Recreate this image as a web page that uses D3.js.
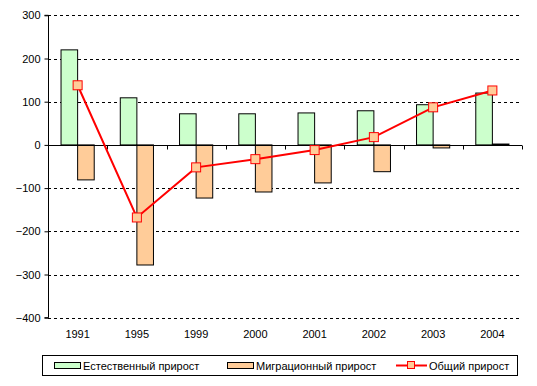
<!DOCTYPE html>
<html><head><meta charset="utf-8">
<script src="https://cdn.jsdelivr.net/npm/d3@7"></script>
<style>body{margin:0;background:#fff}svg{display:block;font-family:"Liberation Sans",Arial,sans-serif}</style>
</head><body><svg id="c" width="537" height="386"></svg>
<script>
const years = ["1991","1995","1999","2000","2001","2002","2003","2004"];
const natural = [220,109,72,72,74,79,93,120];
const migration = [-81,-278,-123,-109,-88,-62,-7,2];
const total = [138,-168,-52,-33,-12,18,87,126];
const yTicks = [300,200,100,0,-100,-200,-300,-400];
const seriesNames = ["Естественный прирост","Миграционный прирост","Общий прирост"];
const colors = {nat:"#CCFFCC", mig:"#FFCC99", line:"#FF0000"};

const svg = d3.select("#c");
const L=48, R=522, T=15.3, B=317.7;
const x = d3.scaleBand().domain(years).range([L,R]).paddingInner(0).paddingOuter(0);
const y = d3.scaleLinear().domain([-400,300]).range([B,T]);
const bw = x.bandwidth()*0.28;

// gridlines
svg.append("g").selectAll("line").data(yTicks).join("line")
  .attr("x1",L).attr("x2",R).attr("y1",d=>Math.round(y(d))+0.5).attr("y2",d=>Math.round(y(d))+0.5)
  .attr("stroke","#000").attr("stroke-dasharray","3,3").attr("stroke-width",1)
  .attr("visibility",d=>d===0?"hidden":"visible");

// bars
const bars = svg.append("g");
bars.selectAll("rect.n").data(years).join("rect")
  .attr("x",d=>x(d)+x.bandwidth()/2-bw).attr("width",bw)
  .attr("y",(d,i)=>y(Math.max(0,natural[i]))).attr("height",(d,i)=>Math.abs(y(natural[i])-y(0)))
  .attr("fill",colors.nat).attr("stroke","#000").attr("stroke-width",1);
bars.selectAll("rect.m").data(years).join("rect")
  .attr("x",d=>x(d)+x.bandwidth()/2).attr("width",bw)
  .attr("y",(d,i)=>y(Math.max(0,migration[i]))).attr("height",(d,i)=>Math.abs(y(migration[i])-y(0)))
  .attr("fill",colors.mig).attr("stroke","#000").attr("stroke-width",1);

// y axis
const ya = svg.append("g").attr("transform",`translate(${L+0.5},0)`)
  .call(d3.axisLeft(y).tickValues(yTicks).tickSize(4).tickPadding(4));
ya.select(".domain").attr("stroke","#000").attr("d",`M-4,${y(300)}H0V${y(-400)}H-4`);
ya.selectAll("text").attr("font-size","11px").attr("fill","#000").attr("font-family","Liberation Sans, Arial, sans-serif");
ya.selectAll(".tick line").attr("stroke","#000");

// x zero axis with category ticks
const z = Math.round(y(0))+0.5;
svg.append("line").attr("x1",L).attr("x2",R).attr("y1",z).attr("y2",z).attr("stroke","#000");
svg.append("g").selectAll("line").data(d3.range(years.length+1)).join("line")
  .attr("x1",i=>Math.round(L+i*x.step())+0.5).attr("x2",i=>Math.round(L+i*x.step())+0.5)
  .attr("y1",z).attr("y2",z+4).attr("stroke","#000");

// x labels
svg.append("g").selectAll("text").data(years).join("text")
  .attr("x",d=>x(d)+x.bandwidth()/2).attr("y",338).attr("text-anchor","middle")
  .attr("font-size","11px").text(d=>d);

// line
const line = d3.line().x((d,i)=>x(years[i])+x.bandwidth()/2).y(d=>y(d));
svg.append("path").datum(total).attr("d",line).attr("fill","none").attr("stroke",colors.line).attr("stroke-width",2);
svg.append("g").selectAll("rect").data(total).join("rect")
  .attr("x",(d,i)=>x(years[i])+x.bandwidth()/2-4.5).attr("y",d=>y(d)-4.5)
  .attr("width",9).attr("height",9).attr("fill",colors.mig).attr("stroke",colors.line).attr("stroke-width",1);

// legend
const lg = svg.append("g");
lg.append("rect").attr("x",42.5).attr("y",355.5).attr("width",475).attr("height",20).attr("fill","#fff").attr("stroke","#000");
lg.append("rect").attr("x",54.5).attr("y",362.5).attr("width",26).attr("height",6).attr("fill",colors.nat).attr("stroke","#000");
lg.append("text").attr("x",83).attr("y",369.5).attr("font-size","11px").text(seriesNames[0]);
lg.append("rect").attr("x",227.5).attr("y",362.5).attr("width",26).attr("height",6).attr("fill",colors.mig).attr("stroke","#000");
lg.append("text").attr("x",256).attr("y",369.5).attr("font-size","11px").text(seriesNames[1]);
lg.append("line").attr("x1",396).attr("x2",427).attr("y1",365.5).attr("y2",365.5).attr("stroke",colors.line).attr("stroke-width",2);
lg.append("rect").attr("x",407.5).attr("y",361.5).attr("width",7).attr("height",7).attr("fill",colors.mig).attr("stroke",colors.line);
lg.append("text").attr("x",429).attr("y",369.5).attr("font-size","11px").text(seriesNames[2]);
</script></body></html>
